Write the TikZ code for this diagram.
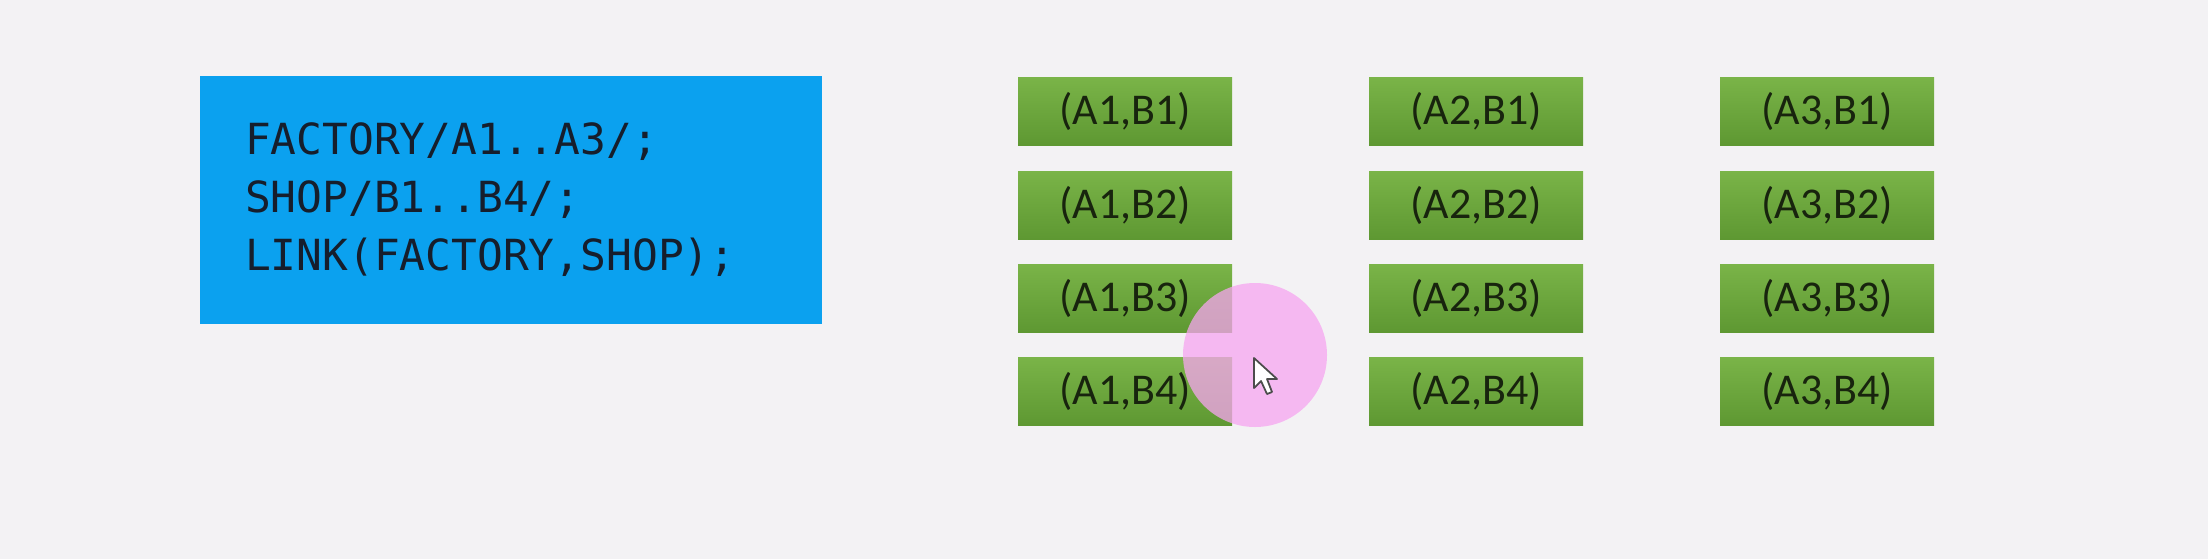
\documentclass[tikz,border=0pt]{standalone}
\usepackage{fontspec}
\setmainfont{Carlito}
\newfontfamily\codefont{DejaVu Sans Mono}
\usetikzlibrary{shapes,calc,positioning}

\definecolor{bgcol}{RGB}{243,242,244}
\definecolor{codeblue}{RGB}{11,161,239}
\definecolor{codetext}{RGB}{22,30,44}
\definecolor{greentop}{RGB}{122,180,72}
\definecolor{greenbot}{RGB}{94,152,50}
\definecolor{pairtext}{RGB}{24,36,14}
\definecolor{markpink}{RGB}{247,165,240}

\tikzset{
	codebox/.style={rectangle, fill=codeblue, text=codetext, text width=5.32cm, inner xsep=0.45cm, minimum height=2.48cm, align=left, font=\codefont\fontsize{12.2}{16.5}\selectfont},
	pairbox/.style={rectangle, top color=greentop, bottom color=greenbot, text=pairtext, minimum width=2.14cm, minimum height=0.68cm, inner sep=0pt, font=\fontsize{12.5}{14}\selectfont}
}

\begin{document}
\begin{tikzpicture}

	\fill[bgcol] (0,0) rectangle (22.08,5.59);
	\useasboundingbox (0,0) rectangle (22.08,5.59);

	% set definitions
	\node[codebox] (code) at (5.11,3.59) {FACTORY/A1..A3/;\\SHOP/B1..B4/;\\LINK(FACTORY,SHOP);};

	% pairs, first column
	\node[pairbox] (a1b1) at (11.25,4.48) {(A1,B1)};
	\node[pairbox] (a1b2) at (11.25,3.54) {(A1,B2)};
	\node[pairbox] (a1b3) at (11.25,2.61) {(A1,B3)};
	\node[pairbox] (a1b4) at (11.25,1.68) {(A1,B4)};

	% second column
	\node[pairbox] (a2b1) at (14.76,4.48) {(A2,B1)};
	\node[pairbox] (a2b2) at (14.76,3.54) {(A2,B2)};
	\node[pairbox] (a2b3) at (14.76,2.61) {(A2,B3)};
	\node[pairbox] (a2b4) at (14.76,1.68) {(A2,B4)};

	% third column
	\node[pairbox] (a3b1) at (18.27,4.48) {(A3,B1)};
	\node[pairbox] (a3b2) at (18.27,3.54) {(A3,B2)};
	\node[pairbox] (a3b3) at (18.27,2.61) {(A3,B3)};
	\node[pairbox] (a3b4) at (18.27,1.68) {(A3,B4)};

	% pointer mark
	\fill[markpink, opacity=0.75] (12.55,2.04) circle [radius=0.72];
	\draw[fill=white, draw=black!70, line width=0.5pt, line join=round] (12.54,2.01) -- ++(0,-0.3) -- ++(0.07,0.07) -- ++(0.06,-0.13) -- ++(0.05,0.02) -- ++(-0.05,0.13) -- ++(0.1,0) -- cycle;

\end{tikzpicture}
\end{document}
